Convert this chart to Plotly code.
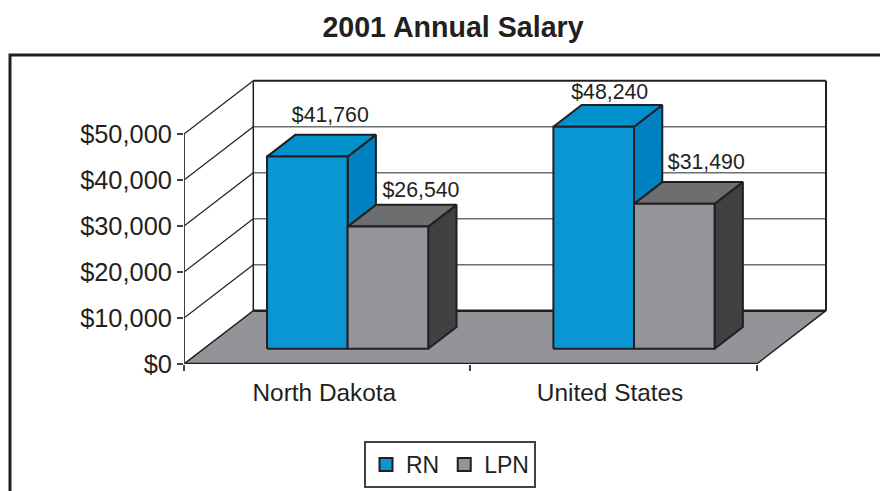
import plotly.graph_objects as go

# ---- data ----
categories = ["North Dakota", "United States"]
series_names = ["RN", "LPN"]
rn_values = [41760, 48240]
lpn_values = [26540, 31490]
y_ticks = [0, 10000, 20000, 30000, 40000, 50000]
y_tick_labels = ["$0", "$10,000", "$20,000", "$30,000", "$40,000", "$50,000"]
category_label_positions = [0.49, 1.488]

# ---- styling / 3D projection settings ----
W, H = 880, 491
X0_PX, X1_PX = 184.0, 756.7      # front floor edge, pixels
Y0_PX, Y50_PX = 364.0, 134.0     # front wall, pixels
PLOT_R_PX, PLOT_T_PX = 840.0, 70.0
X_PER_PX = 2.0 / (X1_PX - X0_PX)
Y_PER_PX = 50000.0 / (Y0_PX - Y50_PX)
DEPTH_X = 69.3 * X_PER_PX        # obliquity of the chart box
DEPTH_Y = 53.3 * Y_PER_PX
BAR_D0, BAR_D1 = 0.287, 0.695    # bar front/back inside the depth
BAR_W = 0.2815
GROUP_LEFT = 0.2205
INK = "#231f20"
GRID = "#6d6e70"
FLOOR = "#929497"
STYLES = {
    "RN": dict(front="#0a96d2", top="#0090cc", side="#0081c2"),
    "LPN": dict(front="#939598", top="#6d6e70", side="#414042"),
}
# label nudges from the front-top-centre of each bar, in pixels
LABEL_NUDGE = {
    ("RN", 0): (23, -40), ("LPN", 0): (33, -35),
    ("RN", 1): (16, -33), ("LPN", 1): (32, -40),
}


def proj(x, v, d):
    """Oblique projection of (category position, value, depth 0..1)."""
    return x + d * DEPTH_X, v + d * DEPTH_Y


def poly(points, fill, line=INK, width=2):
    xs, ys = zip(*(proj(*p) for p in points))
    return go.Scatter(
        x=list(xs) + [xs[0]], y=list(ys) + [ys[0]], mode="lines", fill="toself",
        fillcolor=fill, line=dict(color=line, width=width, shape="linear"),
        hoverinfo="skip", showlegend=False, cliponaxis=False,
    )


def seg(p, q, color, width):
    a, b = proj(*p), proj(*q)
    return go.Scatter(
        x=[a[0], b[0]], y=[a[1], b[1]], mode="lines",
        line=dict(color=color, width=width), hoverinfo="skip",
        showlegend=False, cliponaxis=False,
    )


fig = go.Figure()
top_v = y_ticks[-1]

# floor
fig.add_trace(poly([(0, 0, 0), (2, 0, 0), (2, 0, 1), (0, 0, 1)], FLOOR, width=1.5))
fig.add_trace(seg((0, 0, 0), (2, 0, 0), INK, 2.5))
fig.add_trace(seg((0, 0, 1), (2, 0, 1), INK, 2.5))
# back-wall gridlines and left-wall lines
for v in y_ticks[1:]:
    fig.add_trace(seg((0, v, 1), (2, v, 1), GRID if v < top_v else INK, 1.5 if v < top_v else 2))
    fig.add_trace(seg((0, v, 0), (0, v, 1), INK, 1.2))
fig.add_trace(seg((0, 0, 1), (0, top_v, 1), INK, 1.5))
fig.add_trace(seg((2, 0, 1), (2, top_v, 1), INK, 2))
fig.add_trace(seg((0, 0, 0), (0, top_v, 0), "#414042", 2))

# bars, painted from left to right
for c in range(len(categories)):
    for s, (name, vals) in enumerate(zip(series_names, [rn_values, lpn_values])):
        st = STYLES[name]
        x0 = c + GROUP_LEFT + s * BAR_W
        x1 = x0 + BAR_W
        v = vals[c]
        fig.add_trace(poly([(x1, 0, BAR_D0), (x1, 0, BAR_D1), (x1, v, BAR_D1), (x1, v, BAR_D0)], st["side"]))
        fig.add_trace(poly([(x0, v, BAR_D0), (x1, v, BAR_D0), (x1, v, BAR_D1), (x0, v, BAR_D1)], st["top"]))
        fig.add_trace(poly([(x0, 0, BAR_D0), (x1, 0, BAR_D0), (x1, v, BAR_D0), (x0, v, BAR_D0)], st["front"]))

# data labels
for c in range(len(categories)):
    for s, (name, vals) in enumerate(zip(series_names, [rn_values, lpn_values])):
        xc = c + GROUP_LEFT + (s + 0.5) * BAR_W
        px, py = proj(xc, vals[c], BAR_D0)
        nx, ny = LABEL_NUDGE[(name, c)]
        fig.add_trace(go.Scatter(
            x=[px + nx * X_PER_PX], y=[py - ny * Y_PER_PX], mode="text",
            text=[f"${vals[c]:,}"], textposition="middle center",
            textfont=dict(family="Liberation Sans", size=21.3, color=INK),
            hoverinfo="skip", showlegend=False, cliponaxis=False,
        ))

# legend entries
for name in series_names:
    fig.add_trace(go.Scatter(
        x=[None], y=[None], mode="markers", name=name,
        marker=dict(symbol="square", size=13, color=STYLES[name]["front"], line=dict(color=INK, width=2)),
    ))

fig.update_layout(
    width=W, height=H, autosize=False,
    paper_bgcolor="white", plot_bgcolor="rgba(0,0,0,0)",
    margin=dict(l=X0_PX, r=W - PLOT_R_PX, t=PLOT_T_PX, b=H - Y0_PX, pad=0),
    title=dict(
        text="<b>2001 Annual Salary</b>", x=453 / W, xref="container", xanchor="center",
        y=1 - 27 / H, yanchor="middle",
        font=dict(family="Liberation Sans", size=28.6, color=INK),
    ),
    font=dict(family="Liberation Sans", color=INK),
    xaxis=dict(
        range=[0, (PLOT_R_PX - X0_PX) * X_PER_PX], showgrid=False, zeroline=False, showline=False,
        tickmode="array", tickvals=category_label_positions, ticktext=categories,
        ticks="outside", ticklen=7, tickcolor="rgba(0,0,0,0)",
        tickfont=dict(size=24.4, color=INK),
        minor=dict(tickmode="array", tickvals=[0, 1, 2], ticks="outside", ticklen=6, tickcolor="#414042", tickwidth=1.5),
        fixedrange=True,
    ),
    yaxis=dict(
        range=[0, (Y0_PX - PLOT_T_PX) * Y_PER_PX], showgrid=False, zeroline=False, showline=False,
        tickmode="array", tickvals=y_ticks, ticktext=y_tick_labels,
        ticks="outside", ticklen=6, tickwidth=1.5, tickcolor="#414042",
        tickfont=dict(size=25.4, color=INK),
        fixedrange=True,
    ),
    legend=dict(
        orientation="h", x=(450 - X0_PX) / (PLOT_R_PX - X0_PX), xref="paper", xanchor="center",
        y=1 - 441 / H, yanchor="top", yref="container",
        bgcolor="white", bordercolor="#414042", borderwidth=2,
        font=dict(size=23, color=INK), itemwidth=30,
    ),
    shapes=[dict(
        type="rect", xref="paper", yref="paper",
        x0=(10 - X0_PX) / (PLOT_R_PX - X0_PX), x1=(900 - X0_PX) / (PLOT_R_PX - X0_PX),
        y0=-1, y1=(Y0_PX - 55) / (Y0_PX - PLOT_T_PX),
        line=dict(color=INK, width=3), layer="below",
    )],
)

fig.write_html(
    "out.html",
    config={"displayModeBar": False},
    post_script="document.body.style.margin='0';document.documentElement.style.overflow='hidden';",
)
